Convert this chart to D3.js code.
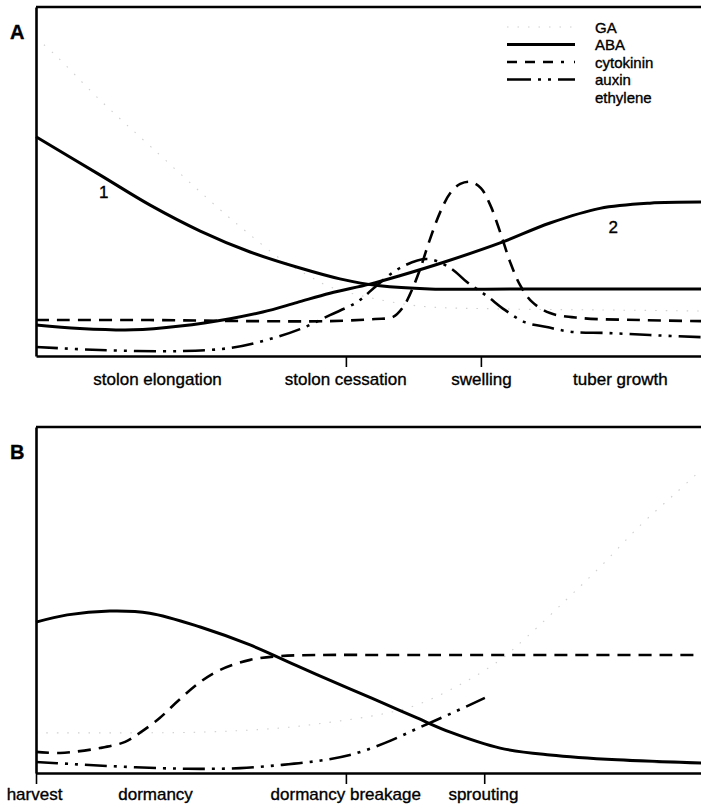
<!DOCTYPE html>
<html>
<head>
<meta charset="utf-8">
<script src="https://cdn.jsdelivr.net/npm/d3@7"></script>
<style>
  html, body { margin: 0; padding: 0; background: #fff; }
  svg { display: block; font-family: "Liberation Sans", Arial, Helvetica, sans-serif; }
</style>
</head>
<body>
<svg id="chart" width="701" height="809"></svg>
<script>
// Relative hormone levels (0–100) over relative developmental time (0–100)

// Panel A: tuberisation
const gaA_x   = [0, 2.6, 9.6, 17.3, 27.4, 31.7, 37.0, 40.8, 44.2, 49.8, 57.7, 69.8, 84.8, 100];
const gaA_y   = [91.1, 86.8, 73.4, 59.9, 42.4, 35.5, 27.5, 23.2, 19.8, 16.9, 14.3, 13.5, 13.2, 12.9];

const aba1A_x = [0, 9.6, 17.1, 24.7, 32.2, 39.7, 45.7, 51.7, 59.2, 72.8, 100];
const aba1A_y = [62.8, 51.9, 43.3, 35.8, 29.8, 25.2, 22.1, 20.1, 19.2, 19.2, 19.2];

const aba2A_x = [0, 6.6, 14.6, 21.7, 29.2, 34.1, 39.2, 44.2, 50.2, 54.7, 61.2, 69.8, 77.3, 84.8, 92.3, 100];
const aba2A_y = [8.9, 7.9, 7.5, 8.6, 10.7, 12.6, 15.3, 18.0, 20.6, 23.0, 26.8, 32.4, 38.1, 42.3, 43.8, 44.1];

const cytA_x  = [0, 17.1, 32.2, 44.2, 51.0, 53.7, 55.2, 56.2, 57.7, 59.2, 60.8, 62.3, 63.8, 65.4, 66.9, 68.3, 69.8, 71.3, 72.8, 74.6, 77.3, 81.8, 90.8, 100];
const cytA_y  = [10.3, 10.3, 10.0, 10.0, 10.6, 11.2, 14.0, 17.5, 24.6, 33.2, 41.3, 46.7, 49.3, 49.9, 48.1, 43.3, 35.5, 26.9, 20.3, 15.5, 12.3, 10.9, 10.3, 10.0];

const auxA_x  = [0, 9.6, 21.7, 29.2, 34.7, 39.7, 44.2, 48.3, 51.3, 54.7, 58.8, 62.3, 64.8, 67.8, 70.5, 73.5, 76.8, 80.6, 85.8, 92.3, 100];
const auxA_y  = [2.6, 1.7, 1.4, 2.3, 4.6, 7.7, 11.7, 15.5, 20.3, 25.2, 27.8, 25.2, 21.2, 17.2, 13.2, 9.7, 8.3, 6.9, 6.6, 6.0, 5.4];

// Panel B: storage after harvest
const gaB_x   = [0, 9.6, 24.7, 36.7, 43.6, 52.2, 57.3, 64.2, 69.8, 73.8, 79.7, 84.8, 91.1, 96.2, 100];
const gaB_y   = [11.6, 11.6, 11.8, 13.0, 14.5, 17.1, 19.7, 26.0, 32.7, 39.3, 50.0, 59.5, 72.0, 80.9, 87.6];

const abaB_x  = [0, 4.7, 11.1, 17.1, 24.7, 32.2, 39.7, 47.2, 52.2, 57.3, 62.3, 69.8, 77.3, 87.4, 100];
const abaB_y  = [43.6, 45.7, 46.8, 46.2, 42.2, 37.0, 30.6, 24.3, 20.2, 15.9, 11.8, 7.2, 5.2, 3.8, 2.9];

const cytB_x  = [0, 3.6, 9.6, 13.4, 15.6, 18.6, 21.5, 24.7, 27.7, 32.2, 36.7, 42.1, 54.7, 100];
const cytB_y  = [6.1, 5.8, 7.2, 9.0, 11.6, 15.9, 21.1, 26.3, 29.8, 32.7, 33.8, 34.1, 34.1, 34.1];

const auxB_x  = [0, 5.3, 11.1, 18.6, 24.7, 30.7, 36.7, 42.4, 47.2, 52.5, 57.5, 62.3, 67.5];
const auxB_y  = [3.2, 2.6, 2.0, 1.4, 1.2, 1.4, 2.3, 3.5, 5.2, 8.7, 13.0, 17.1, 21.7];

// Stage names along the time axis
const stagesA      = ["stolon elongation", "stolon cessation", "swelling", "tuber growth"];
const stagesA_pos  = [18.2, 46.5, 66.9, 87.8];
const ticksA       = [46.6, 66.9];
const stagesB      = ["harvest", "dormancy", "dormancy breakage", "sprouting"];
const stagesB_pos  = [-0.3, 17.9, 46.5, 67.2];
const ticksB       = [0, 46.6, 67.4];

// Legend
const legendNames = ["GA", "ABA", "cytokinin", "auxin", "ethylene"];

// Line styles per hormone
const styles = {
  GA:        { stroke: "#cfcfcf", width: 1.1, dash: "1.5,9" },
  ABA:       { stroke: "#000", width: 3, dash: null },
  cytokinin: { stroke: "#000", width: 2.6, dash: "13,8" },
  auxin:     { stroke: "#000", width: 2.6, dash: "22,7,3,7,3,7" },
  ethylene:  null
};
const legendDash = {
  GA: "1.5,9",
  cytokinin: "10,8,10,8,10,8,3",
  auxin: "24,7,3,7,3,7"
};

const zip = (xs, ys) => xs.map((x, i) => ({ x, y: ys[i] }));

const svg = d3.select("#chart");

// Slight outline so the lettering reads as heavy as printed type
function inkText(sel) {
  return sel.attr("fill", "#000").attr("stroke", "#000").attr("stroke-width", 0.35);
}

function drawPanel(cfg) {
  const { top, bottom, left, right } = cfg;
  const x = d3.scaleLinear().domain([0, 100]).range([left, right]);
  const y = d3.scaleLinear().domain([0, 100]).range([bottom, top]);
  const g = svg.append("g");

  const line = d3.line()
    .x(d => x(d.x))
    .y(d => y(d.y))
    .curve(d3.curveCatmullRom.alpha(0.5));

  cfg.series.forEach(s => {
    const st = styles[s.name];
    g.append("path")
      .datum(zip(s.xs, s.ys))
      .attr("d", line)
      .attr("fill", "none")
      .attr("stroke", st.stroke)
      .attr("stroke-width", st.width)
      .attr("stroke-dasharray", st.dash)
      .attr("stroke-linecap", "butt");
  });

  // Frame: top edge, left axis, bottom axis
  g.append("line")
    .attr("x1", left).attr("x2", right)
    .attr("y1", top).attr("y2", top)
    .attr("stroke", "#000").attr("stroke-width", 2.6);

  const leftAxis = d3.axisLeft(y).tickValues([]).tickSizeOuter(0);
  g.append("g").attr("transform", `translate(${left},0)`).call(leftAxis)
    .select(".domain").attr("stroke-width", 2.6);

  const tickAxis = d3.axisBottom(x).tickValues(cfg.ticks).tickFormat("").tickSize(11).tickSizeOuter(0);
  const ta = g.append("g").attr("transform", `translate(0,${bottom})`).call(tickAxis);
  ta.select(".domain").attr("stroke-width", 2.6);
  ta.selectAll(".tick line").attr("stroke-width", 1.6);

  const labelAxis = d3.axisBottom(x).tickValues(cfg.labelPos)
    .tickFormat((d, i) => cfg.labels[i]).tickSize(0).tickPadding(cfg.labelPad);
  const la = g.append("g").attr("transform", `translate(0,${bottom})`).call(labelAxis);
  la.select(".domain").remove();
  inkText(la.selectAll("text")
    .attr("font-size", 17)
    .attr("font-family", "'Liberation Sans', Arial, sans-serif"));

  // Panel letter
  inkText(g.append("text")
    .attr("x", 10).attr("y", cfg.letterY)
    .attr("font-size", 20).attr("font-weight", "bold")
    .text(cfg.letter));

  return { g, x, y };
}

const A = drawPanel({
  top: 7, bottom: 356, left: 36, right: 701,
  letter: "A", letterY: 39,
  ticks: ticksA, labels: stagesA, labelPos: stagesA_pos, labelPad: 17,
  series: [
    { name: "GA", xs: gaA_x, ys: gaA_y },
    { name: "ABA", xs: aba1A_x, ys: aba1A_y },
    { name: "ABA", xs: aba2A_x, ys: aba2A_y },
    { name: "cytokinin", xs: cytA_x, ys: cytA_y },
    { name: "auxin", xs: auxA_x, ys: auxA_y }
  ]
});

// Curve numbers for the two ABA courses
inkText(A.g.append("text").attr("x", A.x(10.2)).attr("y", A.y(45.4))
  .attr("text-anchor", "middle").attr("font-size", 17).text("1"));
inkText(A.g.append("text").attr("x", A.x(86.8)).attr("y", A.y(35.3))
  .attr("text-anchor", "middle").attr("font-size", 17).text("2"));

drawPanel({
  top: 427, bottom: 773, left: 36, right: 701,
  letter: "B", letterY: 459,
  ticks: ticksB, labels: stagesB, labelPos: stagesB_pos, labelPad: 15,
  series: [
    { name: "GA", xs: gaB_x, ys: gaB_y },
    { name: "ABA", xs: abaB_x, ys: abaB_y },
    { name: "cytokinin", xs: cytB_x, ys: cytB_y },
    { name: "auxin", xs: auxB_x, ys: auxB_y }
  ]
});

// Legend in panel A
const legend = svg.append("g").attr("transform", "translate(507,27)");
legendNames.forEach((name, i) => {
  const row = legend.append("g").attr("transform", `translate(0,${i * 17.5})`);
  const st = styles[name];
  if (st) {
    row.append("line")
      .attr("x1", 0).attr("x2", 68).attr("y1", 0).attr("y2", 0)
      .attr("stroke", st.stroke)
      .attr("stroke-width", st.width)
      .attr("stroke-dasharray", legendDash[name] || st.dash);
  }
  inkText(row.append("text")
    .attr("x", 88).attr("y", 5.5)
    .attr("font-size", 15)
    .text(name));
});
</script>
</body>
</html>
